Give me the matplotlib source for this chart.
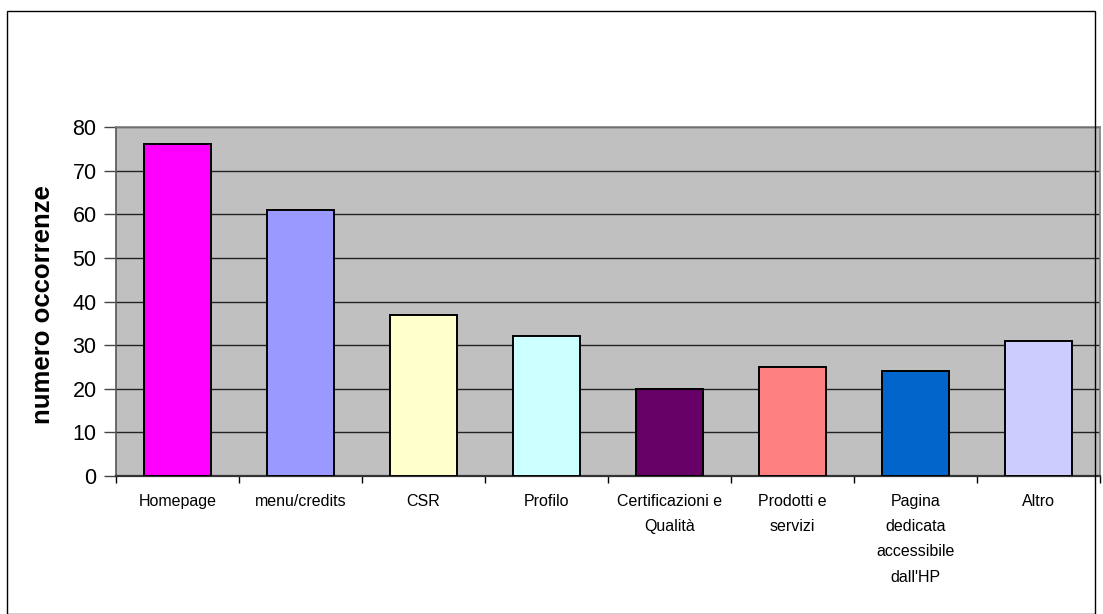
import matplotlib.pyplot as plt
from matplotlib.patches import Rectangle
import numpy as np

plt.rcParams['font.family'] = ['Liberation Sans', 'DejaVu Sans']

# Data
categories = ['Homepage', 'menu/credits', 'CSR', 'Profilo',
              'Certificazioni e\nQualità', 'Prodotti e\nservizi',
              'Pagina\ndedicata\naccessibile\ndall\'HP', 'Altro']
occorrenze = [76, 61, 37, 32, 20, 25, 24, 31]
bar_colors = ['#FF00FF', '#9999FF', '#FFFFCC', '#CCFFFF',
              '#660066', '#FF8080', '#0066CC', '#CCCCFF']

W, H = 1103, 614
fig = plt.figure(figsize=(W / 100, H / 100), dpi=100)

# outer chart border
fig.patches.append(Rectangle((7 / W, 0), (W - 8) / W - 7 / W, 1 - 11 / H,
                             transform=fig.transFigure, fill=False,
                             edgecolor='black', linewidth=1.0))

ax = fig.add_axes([116 / W, 1 - 476 / H, (1100 - 116) / W, (476 - 127) / H])
ax.set_facecolor('#C0C0C0')

x = np.arange(len(categories))
ax.set_axisbelow(True)
ax.yaxis.grid(True, color='#222222', linewidth=1.0)
ax.bar(x, occorrenze, width=0.55, color=bar_colors, edgecolor='black',
       linewidth=1.4, zorder=3)

ax.set_xlim(-0.5, len(categories) - 0.5)
ax.set_ylim(0, 80)
ax.set_yticks(range(0, 81, 10))
ax.tick_params(axis='y', labelsize=15.5, length=9, width=1.0, color='#444444',
               direction='out', pad=5)

ax.set_xticks(x)
ax.set_xticklabels(categories, fontsize=11.5, linespacing=1.85, va='top')
ax.tick_params(axis='x', length=0, pad=13)
ax.set_xticks(np.arange(-0.5, len(categories)), minor=True)
ax.tick_params(axis='x', which='minor', length=5, width=1.0, color='black',
               direction='out')

for side in ['top', 'right']:
    ax.spines[side].set_color('#808080')
    ax.spines[side].set_linewidth(1.2)
ax.spines['left'].set_color('#555555')
ax.spines['left'].set_linewidth(1.2)
ax.spines['bottom'].set_color('#333333')
ax.spines['bottom'].set_linewidth(1.6)
ax.spines['bottom'].set_linestyle((0, (1, 1)))

ax.set_ylabel('numero occorrenze', fontsize=18.5, fontweight='bold')
ax.yaxis.set_label_coords((55 - 116) / 984, 0.49)

fig.savefig('out.png', dpi=100)
